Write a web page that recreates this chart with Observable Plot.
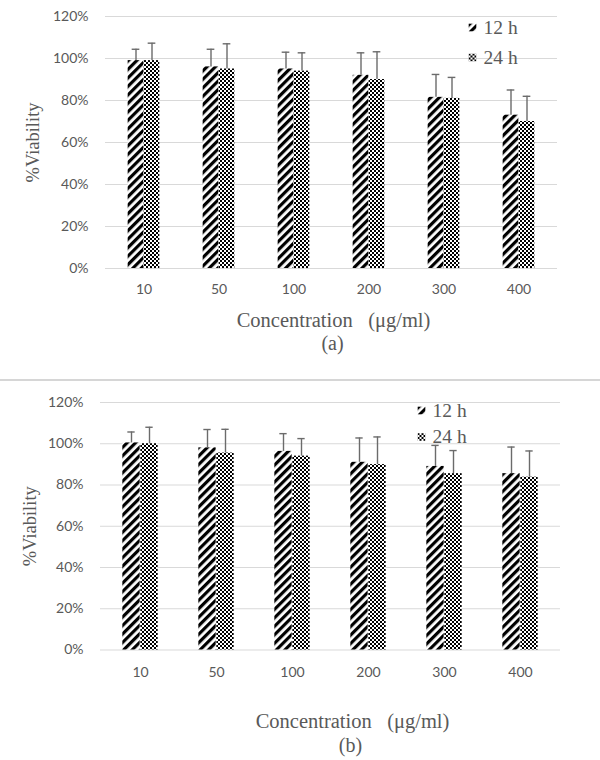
<!DOCTYPE html>
<html><head><meta charset="utf-8">
<script src="https://cdn.jsdelivr.net/npm/d3@7"></script>
<script src="https://cdn.jsdelivr.net/npm/@observablehq/plot@0.6"></script>
<style>
body{margin:0;background:#fff;width:600px;}
#sep{height:2px;background:#d6d6d6;}
</style></head><body>
<svg width="0" height="0" style="position:absolute">
<defs>
<pattern id="stripe" patternUnits="userSpaceOnUse" width="6" height="6" patternTransform="rotate(45)">
<rect width="6" height="6" fill="#fff"/><rect width="3.2" height="6" fill="#000"/>
</pattern>
<pattern id="checker" patternUnits="userSpaceOnUse" width="4" height="4">
<rect width="4" height="4" fill="#fff"/><rect width="2" height="2" fill="#000"/><rect x="2" y="2" width="2" height="2" fill="#000"/>
</pattern>
</defs></svg>
<div id="a"></div><div id="sep"></div><div id="b"></div>
<script>
// ---- data (percent viability) ----
const concentrations = ["10", "50", "100", "200", "300", "400"];
const series = ["12 h", "24 h"];
const yTicks = [0, 0.2, 0.4, 0.6, 0.8, 1.0, 1.2];

const a12 = [99, 96, 95, 92, 81.5, 73];
const a12Err = [5.4, 8.4, 8, 10.7, 10.9, 12];
const a24 = [99, 95, 94, 90, 81, 70];
const a24Err = [8.3, 12, 8.7, 13.2, 10, 12];

const b12 = [100.4, 98, 96.3, 91, 89, 85.5];
const b12Err = [5.3, 8.9, 8.6, 11.8, 10.2, 12.9];
const b24 = [100, 95.5, 94, 89.9, 85.5, 83.8];
const b24Err = [8, 11.5, 8.5, 13.4, 11.2, 12.7];

const patterns = ["url(#stripe)", "url(#checker)"];
const grey = "#595959";
const serif = "Liberation Serif";

function panel(v12, e12, v24, e24, cfg) {
  const W = 600, H = 379;
  const bw = (W - cfg.ml - cfg.mr) / concentrations.length;
  const w = cfg.barW;
  const sets = [
    concentrations.map((c, i) => ({conc: c, v: v12[i] / 100, e: e12[i] / 100})),
    concentrations.map((c, i) => ({conc: c, v: v24[i] / 100, e: e24[i] / 100}))
  ];
  const marks = [
    Plot.gridY(yTicks, {stroke: "#d9d9d9", strokeOpacity: 1})
  ];
  sets.forEach((data, k) => {
    const left = k === 0;
    marks.push(Plot.barY(data, {
      x: "conc", y: "v", fill: patterns[k],
      insetLeft: left ? bw / 2 - w : bw / 2,
      insetRight: left ? bw / 2 : bw / 2 - w
    }));
    marks.push(Plot.ruleX(data, {
      x: "conc", y1: "v", y2: d => d.v + d.e,
      dx: left ? -w / 2 : w / 2, stroke: "#6b6b6b", strokeWidth: 1.4
    }));
    marks.push(Plot.tickY(data, {
      x: "conc", y: d => d.v + d.e, stroke: "#6b6b6b", strokeWidth: 1.4,
      insetLeft: left ? bw / 2 - w / 2 - 4 : bw / 2 + w / 2 - 4,
      insetRight: left ? bw / 2 + w / 2 - 4 : bw / 2 - w / 2 - 4
    }));
    // legend
    marks.push(Plot.dot([series[k]], {
      frameAnchor: "top-left", dx: cfg.legX, dy: cfg.legY[k],
      symbol: "square", r: 4.3, fill: patterns[k], stroke: null
    }));
    marks.push(Plot.text([series[k]], {
      text: d => d, frameAnchor: "top-left", dx: cfg.legX + 11, dy: cfg.legY[k],
      textAnchor: "start", lineAnchor: "middle", fontFamily: serif, fontSize: 19.5, fill: grey
    }));
  });
  marks.push(
    Plot.axisY({ticks: yTicks, tickSize: 0, tickPadding: 17, tickFormat: d3.format(".0%"), label: null, fontSize: 14}),
    Plot.axisX({tickSize: 0, tickPadding: cfg.tp, label: null, fontSize: 14}),
    Plot.text(["Concentration\u00a0\u00a0\u00a0(μg/ml)"], {
      text: d => d, frameAnchor: "bottom", dx: cfg.xtDx, dy: cfg.xtDy,
      lineAnchor: "middle", textAnchor: "middle",
      fontFamily: serif, fontSize: 20.5, fill: grey
    }),
    Plot.text([cfg.tag], {
      text: d => d, frameAnchor: "bottom", dx: cfg.tagDx, dy: cfg.tagDy,
      lineAnchor: "middle", textAnchor: "middle",
      fontFamily: serif, fontSize: 20, fill: grey
    }),
    Plot.text(["%Viability"], {
      text: d => d, frameAnchor: "left", dx: cfg.ytDx, rotate: -90,
      lineAnchor: "middle", textAnchor: "middle",
      fontFamily: serif, fontSize: 18.5, fill: grey
    })
  );
  return Plot.plot({
    width: W, height: H,
    marginLeft: cfg.ml, marginRight: cfg.mr, marginTop: cfg.mt, marginBottom: cfg.mb,
    x: {domain: concentrations, padding: 0, axis: null},
    y: {domain: [0, 1.2], axis: null},
    style: {fontFamily: "Lato", fontSize: "14px", color: grey, background: "#fff"},
    marks
  });
}

document.getElementById("a").append(panel(a12, a12Err, a24, a24Err, {
  ml: 105, mr: 43, mt: 16, mb: 111, barW: 16, tp: 16,
  legX: 367, legY: [11, 41],
  xtDx: 2, xtDy: 52, tagDx: 1, tagDy: 75, ytDx: -72, tag: "(a)"
}));
document.getElementById("b").append(panel(b12, b12Err, b24, b24Err, {
  ml: 100, mr: 40, mt: 21, mb: 110.5, barW: 18, tp: 17,
  legX: 321, legY: [8, 34.5],
  xtDx: 22, xtDy: 71, tagDx: 20, tagDy: 96, ytDx: -70, tag: "(b)"
}));
</script>
</body></html>
